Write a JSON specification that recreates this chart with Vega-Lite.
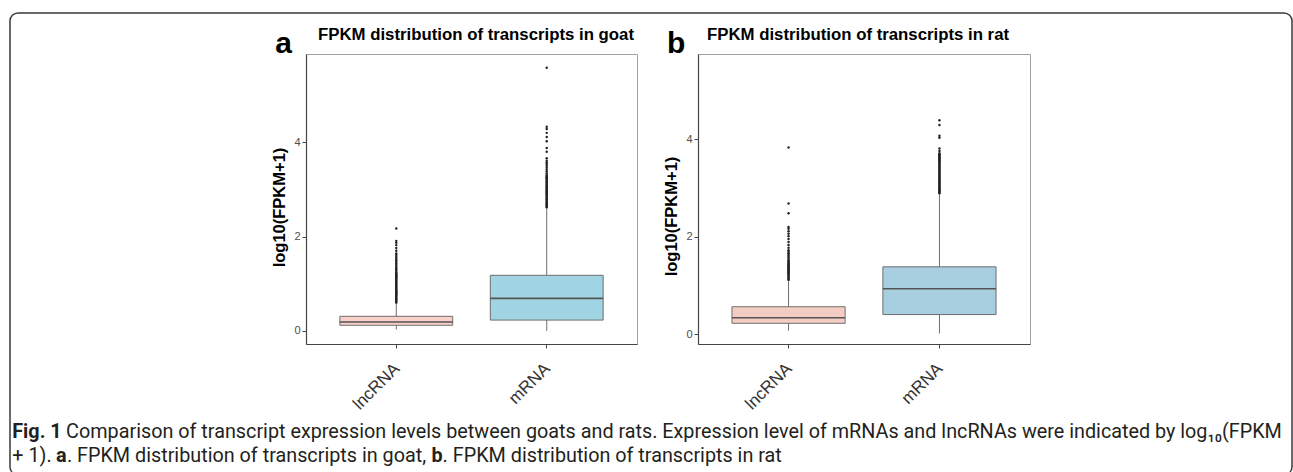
{
  "$schema": "https://vega.github.io/schema/vega-lite/v6.json",
  "padding": {"left": 9, "top": 12, "right": 0, "bottom": -3},
  "background": "#ffffff",
  "datasets": {
    "boxes": [
      {"panel": "a", "type": "lncRNA", "lower": 0.03, "q1": 0.12, "median": 0.19, "q3": 0.31, "upper": 0.58},
      {"panel": "a", "type": "mRNA", "lower": 0.0, "q1": 0.23, "median": 0.69, "q3": 1.18, "upper": 2.62},
      {"panel": "b", "type": "lncRNA", "lower": 0.07, "q1": 0.22, "median": 0.335, "q3": 0.56, "upper": 1.08},
      {"panel": "b", "type": "mRNA", "lower": 0.01, "q1": 0.4, "median": 0.93, "q3": 1.38, "upper": 2.88}
    ],
    "outliers": [
      {"panel": "a", "type": "lncRNA", "value": 0.60}, {"panel": "a", "type": "lncRNA", "value": 0.62}, {"panel": "a", "type": "lncRNA", "value": 0.64}, {"panel": "a", "type": "lncRNA", "value": 0.66},
      {"panel": "a", "type": "lncRNA", "value": 0.68}, {"panel": "a", "type": "lncRNA", "value": 0.70}, {"panel": "a", "type": "lncRNA", "value": 0.72}, {"panel": "a", "type": "lncRNA", "value": 0.74},
      {"panel": "a", "type": "lncRNA", "value": 0.76}, {"panel": "a", "type": "lncRNA", "value": 0.78}, {"panel": "a", "type": "lncRNA", "value": 0.80}, {"panel": "a", "type": "lncRNA", "value": 0.82},
      {"panel": "a", "type": "lncRNA", "value": 0.84}, {"panel": "a", "type": "lncRNA", "value": 0.86}, {"panel": "a", "type": "lncRNA", "value": 0.88}, {"panel": "a", "type": "lncRNA", "value": 0.90},
      {"panel": "a", "type": "lncRNA", "value": 0.92}, {"panel": "a", "type": "lncRNA", "value": 0.94}, {"panel": "a", "type": "lncRNA", "value": 0.96}, {"panel": "a", "type": "lncRNA", "value": 0.98},
      {"panel": "a", "type": "lncRNA", "value": 1.00}, {"panel": "a", "type": "lncRNA", "value": 1.02}, {"panel": "a", "type": "lncRNA", "value": 1.04}, {"panel": "a", "type": "lncRNA", "value": 1.06},
      {"panel": "a", "type": "lncRNA", "value": 1.08}, {"panel": "a", "type": "lncRNA", "value": 1.10}, {"panel": "a", "type": "lncRNA", "value": 1.12}, {"panel": "a", "type": "lncRNA", "value": 1.14},
      {"panel": "a", "type": "lncRNA", "value": 1.16}, {"panel": "a", "type": "lncRNA", "value": 1.18}, {"panel": "a", "type": "lncRNA", "value": 1.20}, {"panel": "a", "type": "lncRNA", "value": 1.22},
      {"panel": "a", "type": "lncRNA", "value": 1.24}, {"panel": "a", "type": "lncRNA", "value": 1.27}, {"panel": "a", "type": "lncRNA", "value": 1.30}, {"panel": "a", "type": "lncRNA", "value": 1.33},
      {"panel": "a", "type": "lncRNA", "value": 1.36}, {"panel": "a", "type": "lncRNA", "value": 1.40}, {"panel": "a", "type": "lncRNA", "value": 1.43}, {"panel": "a", "type": "lncRNA", "value": 1.46},
      {"panel": "a", "type": "lncRNA", "value": 1.50}, {"panel": "a", "type": "lncRNA", "value": 1.53}, {"panel": "a", "type": "lncRNA", "value": 1.57}, {"panel": "a", "type": "lncRNA", "value": 1.61},
      {"panel": "a", "type": "lncRNA", "value": 1.64}, {"panel": "a", "type": "lncRNA", "value": 1.70}, {"panel": "a", "type": "lncRNA", "value": 1.76}, {"panel": "a", "type": "lncRNA", "value": 1.82},
      {"panel": "a", "type": "lncRNA", "value": 1.87}, {"panel": "a", "type": "lncRNA", "value": 1.91}, {"panel": "a", "type": "lncRNA", "value": 2.17},
      {"panel": "a", "type": "mRNA", "value": 2.62}, {"panel": "a", "type": "mRNA", "value": 2.64}, {"panel": "a", "type": "mRNA", "value": 2.66}, {"panel": "a", "type": "mRNA", "value": 2.68},
      {"panel": "a", "type": "mRNA", "value": 2.70}, {"panel": "a", "type": "mRNA", "value": 2.72}, {"panel": "a", "type": "mRNA", "value": 2.74}, {"panel": "a", "type": "mRNA", "value": 2.76},
      {"panel": "a", "type": "mRNA", "value": 2.78}, {"panel": "a", "type": "mRNA", "value": 2.80}, {"panel": "a", "type": "mRNA", "value": 2.82}, {"panel": "a", "type": "mRNA", "value": 2.84},
      {"panel": "a", "type": "mRNA", "value": 2.86}, {"panel": "a", "type": "mRNA", "value": 2.88}, {"panel": "a", "type": "mRNA", "value": 2.90}, {"panel": "a", "type": "mRNA", "value": 2.92},
      {"panel": "a", "type": "mRNA", "value": 2.94}, {"panel": "a", "type": "mRNA", "value": 2.96}, {"panel": "a", "type": "mRNA", "value": 2.98}, {"panel": "a", "type": "mRNA", "value": 3.00},
      {"panel": "a", "type": "mRNA", "value": 3.02}, {"panel": "a", "type": "mRNA", "value": 3.04}, {"panel": "a", "type": "mRNA", "value": 3.06}, {"panel": "a", "type": "mRNA", "value": 3.08},
      {"panel": "a", "type": "mRNA", "value": 3.10}, {"panel": "a", "type": "mRNA", "value": 3.12}, {"panel": "a", "type": "mRNA", "value": 3.14}, {"panel": "a", "type": "mRNA", "value": 3.16},
      {"panel": "a", "type": "mRNA", "value": 3.18}, {"panel": "a", "type": "mRNA", "value": 3.20}, {"panel": "a", "type": "mRNA", "value": 3.22}, {"panel": "a", "type": "mRNA", "value": 3.24},
      {"panel": "a", "type": "mRNA", "value": 3.26}, {"panel": "a", "type": "mRNA", "value": 3.28}, {"panel": "a", "type": "mRNA", "value": 3.30}, {"panel": "a", "type": "mRNA", "value": 3.34},
      {"panel": "a", "type": "mRNA", "value": 3.38}, {"panel": "a", "type": "mRNA", "value": 3.42}, {"panel": "a", "type": "mRNA", "value": 3.46}, {"panel": "a", "type": "mRNA", "value": 3.50},
      {"panel": "a", "type": "mRNA", "value": 3.54}, {"panel": "a", "type": "mRNA", "value": 3.57}, {"panel": "a", "type": "mRNA", "value": 3.61}, {"panel": "a", "type": "mRNA", "value": 3.66},
      {"panel": "a", "type": "mRNA", "value": 3.80}, {"panel": "a", "type": "mRNA", "value": 3.88}, {"panel": "a", "type": "mRNA", "value": 4.02}, {"panel": "a", "type": "mRNA", "value": 4.11},
      {"panel": "a", "type": "mRNA", "value": 4.20}, {"panel": "a", "type": "mRNA", "value": 4.28}, {"panel": "a", "type": "mRNA", "value": 4.33}, {"panel": "a", "type": "mRNA", "value": 5.58},
      {"panel": "b", "type": "lncRNA", "value": 1.11}, {"panel": "b", "type": "lncRNA", "value": 1.13}, {"panel": "b", "type": "lncRNA", "value": 1.15}, {"panel": "b", "type": "lncRNA", "value": 1.17},
      {"panel": "b", "type": "lncRNA", "value": 1.19}, {"panel": "b", "type": "lncRNA", "value": 1.21}, {"panel": "b", "type": "lncRNA", "value": 1.23}, {"panel": "b", "type": "lncRNA", "value": 1.25},
      {"panel": "b", "type": "lncRNA", "value": 1.27}, {"panel": "b", "type": "lncRNA", "value": 1.29}, {"panel": "b", "type": "lncRNA", "value": 1.31}, {"panel": "b", "type": "lncRNA", "value": 1.33},
      {"panel": "b", "type": "lncRNA", "value": 1.35}, {"panel": "b", "type": "lncRNA", "value": 1.37}, {"panel": "b", "type": "lncRNA", "value": 1.39}, {"panel": "b", "type": "lncRNA", "value": 1.41},
      {"panel": "b", "type": "lncRNA", "value": 1.43}, {"panel": "b", "type": "lncRNA", "value": 1.45}, {"panel": "b", "type": "lncRNA", "value": 1.47}, {"panel": "b", "type": "lncRNA", "value": 1.49},
      {"panel": "b", "type": "lncRNA", "value": 1.51}, {"panel": "b", "type": "lncRNA", "value": 1.54}, {"panel": "b", "type": "lncRNA", "value": 1.57}, {"panel": "b", "type": "lncRNA", "value": 1.60},
      {"panel": "b", "type": "lncRNA", "value": 1.63}, {"panel": "b", "type": "lncRNA", "value": 1.66}, {"panel": "b", "type": "lncRNA", "value": 1.69}, {"panel": "b", "type": "lncRNA", "value": 1.72},
      {"panel": "b", "type": "lncRNA", "value": 1.77}, {"panel": "b", "type": "lncRNA", "value": 1.83}, {"panel": "b", "type": "lncRNA", "value": 1.89}, {"panel": "b", "type": "lncRNA", "value": 1.95},
      {"panel": "b", "type": "lncRNA", "value": 2.01}, {"panel": "b", "type": "lncRNA", "value": 2.06}, {"panel": "b", "type": "lncRNA", "value": 2.11}, {"panel": "b", "type": "lncRNA", "value": 2.16},
      {"panel": "b", "type": "lncRNA", "value": 2.20}, {"panel": "b", "type": "lncRNA", "value": 2.48}, {"panel": "b", "type": "lncRNA", "value": 2.68}, {"panel": "b", "type": "lncRNA", "value": 3.83},
      {"panel": "b", "type": "mRNA", "value": 2.89}, {"panel": "b", "type": "mRNA", "value": 2.91}, {"panel": "b", "type": "mRNA", "value": 2.93}, {"panel": "b", "type": "mRNA", "value": 2.95},
      {"panel": "b", "type": "mRNA", "value": 2.97}, {"panel": "b", "type": "mRNA", "value": 2.99}, {"panel": "b", "type": "mRNA", "value": 3.01}, {"panel": "b", "type": "mRNA", "value": 3.03},
      {"panel": "b", "type": "mRNA", "value": 3.05}, {"panel": "b", "type": "mRNA", "value": 3.07}, {"panel": "b", "type": "mRNA", "value": 3.09}, {"panel": "b", "type": "mRNA", "value": 3.11},
      {"panel": "b", "type": "mRNA", "value": 3.13}, {"panel": "b", "type": "mRNA", "value": 3.15}, {"panel": "b", "type": "mRNA", "value": 3.17}, {"panel": "b", "type": "mRNA", "value": 3.19},
      {"panel": "b", "type": "mRNA", "value": 3.21}, {"panel": "b", "type": "mRNA", "value": 3.23}, {"panel": "b", "type": "mRNA", "value": 3.25}, {"panel": "b", "type": "mRNA", "value": 3.27},
      {"panel": "b", "type": "mRNA", "value": 3.29}, {"panel": "b", "type": "mRNA", "value": 3.31}, {"panel": "b", "type": "mRNA", "value": 3.33}, {"panel": "b", "type": "mRNA", "value": 3.35},
      {"panel": "b", "type": "mRNA", "value": 3.37}, {"panel": "b", "type": "mRNA", "value": 3.39}, {"panel": "b", "type": "mRNA", "value": 3.41}, {"panel": "b", "type": "mRNA", "value": 3.43},
      {"panel": "b", "type": "mRNA", "value": 3.45}, {"panel": "b", "type": "mRNA", "value": 3.47}, {"panel": "b", "type": "mRNA", "value": 3.49}, {"panel": "b", "type": "mRNA", "value": 3.51},
      {"panel": "b", "type": "mRNA", "value": 3.53}, {"panel": "b", "type": "mRNA", "value": 3.55}, {"panel": "b", "type": "mRNA", "value": 3.57}, {"panel": "b", "type": "mRNA", "value": 3.59},
      {"panel": "b", "type": "mRNA", "value": 3.61}, {"panel": "b", "type": "mRNA", "value": 3.63}, {"panel": "b", "type": "mRNA", "value": 3.65}, {"panel": "b", "type": "mRNA", "value": 3.67},
      {"panel": "b", "type": "mRNA", "value": 3.69}, {"panel": "b", "type": "mRNA", "value": 3.71}, {"panel": "b", "type": "mRNA", "value": 3.76}, {"panel": "b", "type": "mRNA", "value": 3.81},
      {"panel": "b", "type": "mRNA", "value": 4.03}, {"panel": "b", "type": "mRNA", "value": 4.07}, {"panel": "b", "type": "mRNA", "value": 4.29}, {"panel": "b", "type": "mRNA", "value": 4.39}
    ],
    "caption": [
      {"line": 1, "seg": "fig", "text": "Fig. 1"},
      {"line": 1, "seg": "body1", "text": "Comparison of transcript expression levels between goats and rats. Expression level of mRNAs and lncRNAs were indicated by log₁₀(FPKM"},
      {"line": 2, "seg": "l2a", "text": "+ 1)."},
      {"line": 2, "seg": "boldA", "text": "a"},
      {"line": 2, "seg": "l2b", "text": ". FPKM distribution of transcripts in goat,"},
      {"line": 2, "seg": "boldB", "text": "b"},
      {"line": 2, "seg": "l2c", "text": ". FPKM distribution of transcripts in rat"}
    ]
  },
  "concat": [
    {
      "hconcat": [
        {
          "width": 296, "height": 290,
          "view": {"stroke": null},
          "title": {"text": "a", "anchor": "end", "frame": "group", "dx": -14, "offset": -29, "baseline": "alphabetic", "fontSize": 30, "fontWeight": "bold", "font": "Liberation Sans", "color": "#000000"},
          "data": {"values": [{"blank": ""}]},
          "mark": {"type": "text", "text": ""},
          "encoding": {}
        },
        {
          "width": 331, "height": 290,
          "title": {"text": "FPKM distribution of transcripts in goat", "anchor": "start", "frame": "group", "dx": 12, "offset": -3, "baseline": "alphabetic", "fontSize": 16.8, "fontWeight": "bold", "font": "Liberation Sans", "color": "#000000"},
          "layer": [
            {
              "data": {"name": "boxes"},
              "transform": [{"filter": "datum.panel == 'a'"}],
              "mark": {"type": "rule", "color": "#6e6e6e", "strokeWidth": 1},
              "encoding": {
                "x": {"field": "type", "type": "nominal", "scale": {"domain": ["lncRNA", "mRNA"], "paddingInner": 0.25, "paddingOuter": 0.225}, "title": null},
                "y": {"field": "lower", "type": "quantitative", "scale": {"domain": [-0.277, 5.872], "nice": false, "zero": false}, "axis": {"values": [0, 2, 4], "titleY": 153}, "title": "log10(FPKM+1)"},
                "y2": {"field": "upper"}
              }
            },
            {
              "data": {"name": "boxes"},
              "transform": [{"filter": "datum.panel == 'a'"}],
              "mark": {"type": "bar", "stroke": "#6e6e6e", "strokeWidth": 1, "opacity": 1},
              "encoding": {
                "x": {"field": "type", "type": "nominal", "title": null},
                "y": {"field": "q1", "type": "quantitative", "title": "log10(FPKM+1)"},
                "y2": {"field": "q3"},
                "color": {"field": "type", "type": "nominal", "scale": {"domain": ["lncRNA", "mRNA"], "range": ["#F9CFCA", "#A0D4E2"]}, "legend": null}
              }
            },
            {
              "data": {"name": "boxes"},
              "transform": [{"filter": "datum.panel == 'a'"}],
              "mark": {"type": "tick", "color": "#555555", "thickness": 1.6, "size": 113, "opacity": 1},
              "encoding": {
                "x": {"field": "type", "type": "nominal", "title": null},
                "y": {"field": "median", "type": "quantitative", "title": "log10(FPKM+1)"}
              }
            },
            {
              "data": {"name": "outliers"},
              "transform": [{"filter": "datum.panel == 'a'"}],
              "mark": {"type": "circle", "size": 6, "color": "#222222", "opacity": 1},
              "encoding": {
                "x": {"field": "type", "type": "nominal", "title": null},
                "y": {"field": "value", "type": "quantitative", "title": "log10(FPKM+1)"}
              }
            }
          ]
        },
        {
          "width": 61, "height": 290,
          "view": {"stroke": null},
          "title": {"text": "b", "anchor": "start", "frame": "group", "dx": 30, "offset": -29, "baseline": "alphabetic", "fontSize": 30, "fontWeight": "bold", "font": "Liberation Sans", "color": "#000000"},
          "data": {"values": [{"blank": ""}]},
          "mark": {"type": "text", "text": ""},
          "encoding": {}
        },
        {
          "width": 332, "height": 290,
          "title": {"text": "FPKM distribution of transcripts in rat", "anchor": "start", "frame": "group", "dx": 9, "offset": -3, "baseline": "alphabetic", "fontSize": 16.8, "fontWeight": "bold", "font": "Liberation Sans", "color": "#000000"},
          "layer": [
            {
              "data": {"name": "boxes"},
              "transform": [{"filter": "datum.panel == 'b'"}],
              "mark": {"type": "rule", "color": "#6e6e6e", "strokeWidth": 1},
              "encoding": {
                "x": {"field": "type", "type": "nominal", "scale": {"domain": ["lncRNA", "mRNA"], "paddingInner": 0.25, "paddingOuter": 0.225}, "title": null},
                "y": {"field": "lower", "type": "quantitative", "scale": {"domain": [-0.205, 5.75], "nice": false, "zero": false}, "axis": {"values": [0, 2, 4], "titleY": 162}, "title": "log10(FPKM+1)"},
                "y2": {"field": "upper"}
              }
            },
            {
              "data": {"name": "boxes"},
              "transform": [{"filter": "datum.panel == 'b'"}],
              "mark": {"type": "bar", "stroke": "#6e6e6e", "strokeWidth": 1, "opacity": 1},
              "encoding": {
                "x": {"field": "type", "type": "nominal", "title": null},
                "y": {"field": "q1", "type": "quantitative", "title": "log10(FPKM+1)"},
                "y2": {"field": "q3"},
                "color": {"field": "type", "type": "nominal", "scale": {"domain": ["lncRNA", "mRNA"], "range": ["#F4CCC3", "#A8CFE0"]}, "legend": null}
              }
            },
            {
              "data": {"name": "boxes"},
              "transform": [{"filter": "datum.panel == 'b'"}],
              "mark": {"type": "tick", "color": "#555555", "thickness": 1.6, "size": 113, "opacity": 1},
              "encoding": {
                "x": {"field": "type", "type": "nominal", "title": null},
                "y": {"field": "median", "type": "quantitative", "title": "log10(FPKM+1)"}
              }
            },
            {
              "data": {"name": "outliers"},
              "transform": [{"filter": "datum.panel == 'b'"}],
              "mark": {"type": "circle", "size": 6, "color": "#222222", "opacity": 1},
              "encoding": {
                "x": {"field": "type", "type": "nominal", "title": null},
                "y": {"field": "value", "type": "quantitative", "title": "log10(FPKM+1)"}
              }
            }
          ]
        }
      ],
      "spacing": 0,
      "bounds": "flush",
      "resolve": {"scale": {"x": "independent", "y": "independent", "color": "independent"}}
    },
    {
      "width": 1282, "height": 462,
      "view": {"stroke": "#3a3a3a", "strokeWidth": 1.5, "cornerRadius": 8, "fill": null},
      "data": {"name": "caption"},
      "encoding": {
        "x": {"value": 0},
        "y": {"field": "line", "type": "ordinal", "scale": {"type": "point", "range": [425, 449], "padding": 0}, "axis": null},
        "text": {"field": "text"}
      },
      "layer": [
        {"transform": [{"filter": "datum.seg == 'fig'"}], "mark": {"type": "text", "align": "left", "baseline": "alphabetic", "dx": 2.25, "font": "Roboto", "fontSize": 19.8, "fontWeight": "bold", "color": "#231f20"}},
        {"transform": [{"filter": "datum.seg == 'body1'"}], "mark": {"type": "text", "align": "left", "baseline": "alphabetic", "dx": 56.1, "font": "Roboto", "fontSize": 19.8, "color": "#231f20"}},
        {"transform": [{"filter": "datum.seg == 'l2a'"}], "mark": {"type": "text", "align": "left", "baseline": "alphabetic", "dx": 2.25, "font": "Roboto", "fontSize": 19.8, "color": "#231f20"}},
        {"transform": [{"filter": "datum.seg == 'boldA'"}], "mark": {"type": "text", "align": "left", "baseline": "alphabetic", "dx": 46.1, "font": "Roboto", "fontSize": 19.8, "fontWeight": "bold", "color": "#231f20"}},
        {"transform": [{"filter": "datum.seg == 'l2b'"}], "mark": {"type": "text", "align": "left", "baseline": "alphabetic", "dx": 56.9, "font": "Roboto", "fontSize": 19.8, "color": "#231f20"}},
        {"transform": [{"filter": "datum.seg == 'boldB'"}], "mark": {"type": "text", "align": "left", "baseline": "alphabetic", "dx": 421.4, "font": "Roboto", "fontSize": 19.8, "fontWeight": "bold", "color": "#231f20"}},
        {"transform": [{"filter": "datum.seg == 'l2c'"}], "mark": {"type": "text", "align": "left", "baseline": "alphabetic", "dx": 432.6, "font": "Roboto", "fontSize": 19.8, "color": "#231f20"}}
      ]
    }
  ],
  "columns": 1,
  "spacing": -41,
  "bounds": "flush",
  "align": "none",
  "config": {
    "font": "Liberation Sans",
    "view": {"stroke": "#a0a0a0", "strokeWidth": 1},
    "axis": {
      "grid": false,
      "domainColor": "#444444",
      "domainWidth": 1.2,
      "tickColor": "#444444",
      "tickSize": 4,
      "labelFont": "Liberation Sans",
      "titleFont": "Liberation Sans",
      "titleFontWeight": "bold",
      "titleColor": "#000000",
      "titleFontSize": 16.5
    },
    "axisY": {"labelFontSize": 11, "labelColor": "#4d4d4d", "labelPadding": 2, "titlePadding": 6},
    "axisX": {"labelAngle": -45, "labelFontSize": 17, "labelColor": "#333333", "labelPadding": 12, "labelOffset": -5, "title": null}
  }
}
